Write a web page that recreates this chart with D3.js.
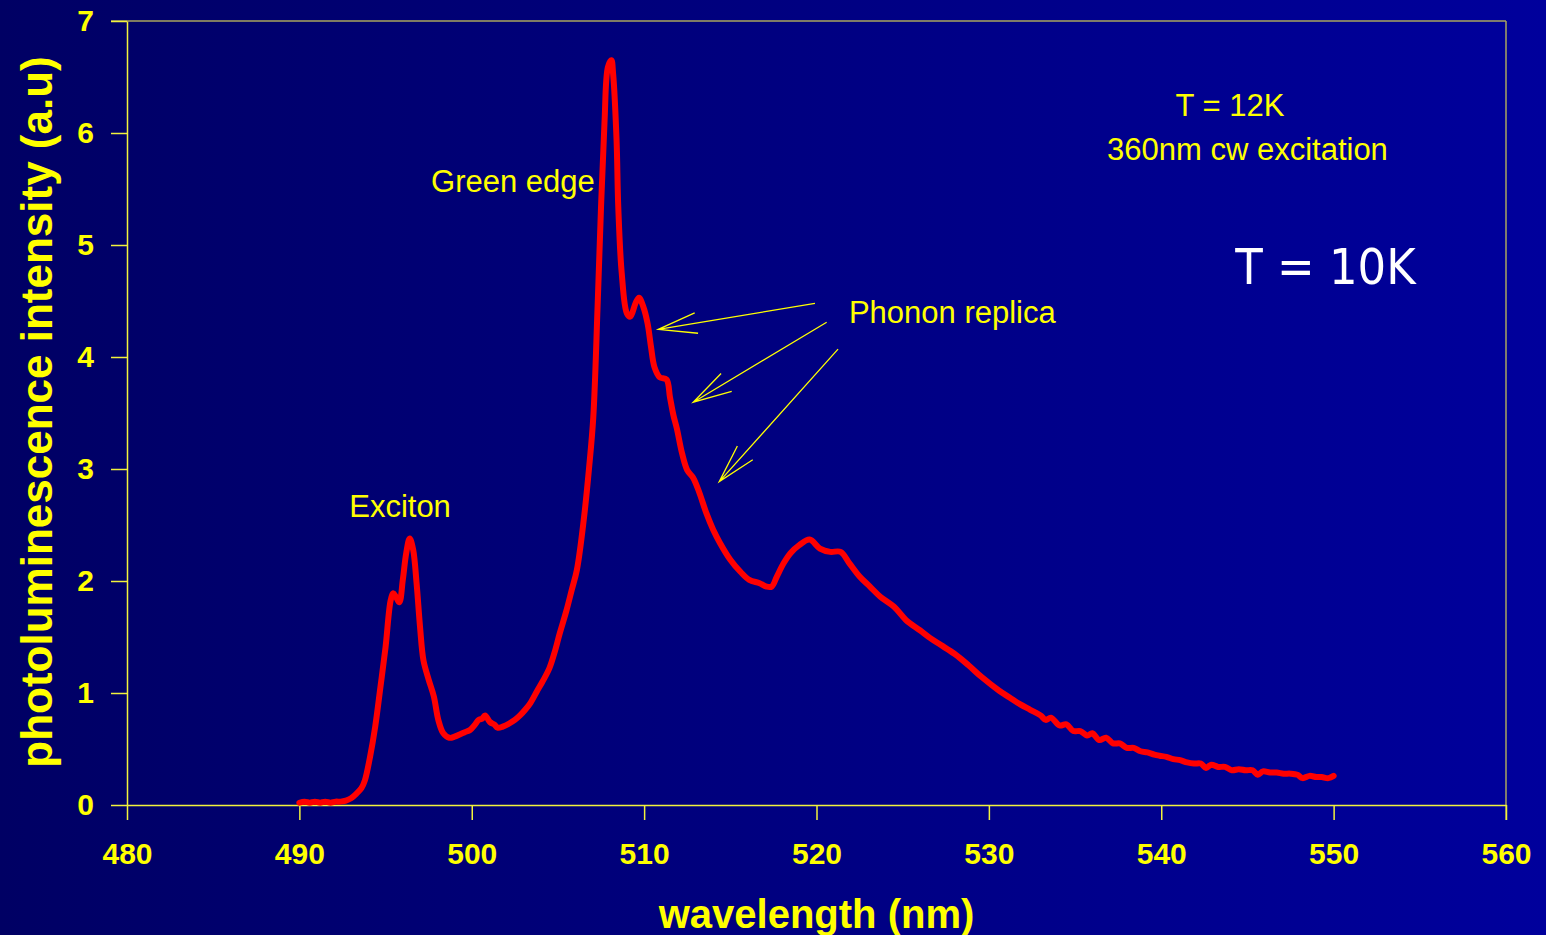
<!DOCTYPE html>
<html>
<head>
<meta charset="utf-8">
<script src="https://cdn.jsdelivr.net/npm/d3@7"></script>
<style>
  html, body { margin: 0; padding: 0; overflow: hidden; }
  body { width: 1546px; height: 935px; }
  svg { display: block; }
</style>
</head>
<body>
<svg id="chart" width="1546" height="935"></svg>
<script>
// Low-temperature photoluminescence spectrum (T = 12K, 360 nm cw excitation)
const wavelength = [
  490.0, 490.3, 490.6, 490.9, 491.2, 491.5, 491.8, 492.1, 492.4, 492.7,
  493.0, 493.3, 493.6, 493.8, 494.1, 494.4, 494.7, 495.0, 495.3, 495.45,
  495.6, 495.8, 496.0, 496.2, 496.4, 496.6, 496.8, 497.0, 497.2, 497.5,
  497.8, 498.06, 498.35, 498.7, 499.0, 499.3, 499.6, 499.9, 500.2, 500.4,
  500.6, 500.77, 501.06, 501.3, 501.5, 501.8, 502.2, 502.5, 502.8, 503.1,
  503.4, 503.8, 504.1, 504.5, 504.8, 505.1, 505.5, 505.8, 506.1, 506.5,
  506.8, 507.05, 507.3, 507.5, 507.7, 507.9, 508.1, 508.2, 508.4, 508.5,
  508.7, 509.0, 509.2, 509.5, 509.7, 509.95, 510.2, 510.4, 510.6, 510.9,
  511.3, 511.5, 511.7, 511.9, 512.2, 512.5, 512.85, 513.2, 513.6, 514.0,
  514.4, 515.0, 515.6, 516.1, 516.7, 517.1, 517.4, 517.7, 518.1, 518.5,
  519.0, 519.6, 520.2, 520.8, 521.4, 521.9, 522.5, 523.1, 523.7, 524.5,
  525.2, 526.0, 526.6, 527.2, 528.0, 528.8, 529.6, 530.6, 531.2, 531.8,
  532.4, 533.0, 533.3, 533.6, 534.1, 534.5, 534.9, 535.3, 535.7, 536.0,
  536.4, 536.8, 537.2, 537.6, 538.0, 538.4, 538.8, 539.2, 539.6, 539.9,
  540.3, 540.7, 541.1, 541.5, 541.9, 542.3, 542.6, 542.9, 543.3, 543.7,
  544.1, 544.5, 544.9, 545.3, 545.6, 545.9, 546.3, 546.7, 547.1, 547.5,
  547.9, 548.2, 548.6, 549.0, 549.3, 549.7, 550.0
];
const intensity = [
  0.02, 0.03, 0.02, 0.03, 0.02, 0.03, 0.02, 0.03, 0.03, 0.04,
  0.06, 0.10, 0.15, 0.22, 0.43, 0.70, 1.05, 1.41, 1.83, 1.89,
  1.86, 1.81, 2.01, 2.25, 2.38, 2.28, 1.98, 1.59, 1.29, 1.12,
  0.97, 0.76, 0.64, 0.60, 0.61, 0.63, 0.65, 0.67, 0.72, 0.76,
  0.77, 0.80, 0.74, 0.72, 0.69, 0.70, 0.73, 0.76, 0.80, 0.85,
  0.91, 1.02, 1.10, 1.22, 1.36, 1.53, 1.74, 1.92, 2.10, 2.55,
  3.00, 3.46, 4.45, 5.34, 6.09, 6.59, 6.65, 6.53, 5.94, 5.34,
  4.75, 4.39, 4.36, 4.48, 4.53, 4.45, 4.30, 4.09, 3.91, 3.82,
  3.80, 3.64, 3.48, 3.36, 3.14, 2.99, 2.92, 2.79, 2.61, 2.46,
  2.34, 2.19, 2.08, 2.01, 1.98, 1.95, 1.95, 2.04, 2.16, 2.25,
  2.32, 2.37, 2.29, 2.26, 2.26, 2.16, 2.04, 1.95, 1.86, 1.77,
  1.65, 1.56, 1.49, 1.43, 1.35, 1.25, 1.14, 1.02, 0.96, 0.90,
  0.85, 0.80, 0.76, 0.78, 0.71, 0.72, 0.66, 0.66, 0.62, 0.64,
  0.58, 0.60, 0.55, 0.55, 0.51, 0.51, 0.48, 0.47, 0.45, 0.44,
  0.43, 0.41, 0.40, 0.38, 0.37, 0.37, 0.33, 0.36, 0.34, 0.34,
  0.31, 0.32, 0.31, 0.31, 0.27, 0.30, 0.29, 0.29, 0.28, 0.28,
  0.27, 0.24, 0.26, 0.25, 0.25, 0.24, 0.26
];

const xTicks = [480, 490, 500, 510, 520, 530, 540, 550, 560];
const yTicks = [0, 1, 2, 3, 4, 5, 6, 7];

// Text annotations, anchored in data units (nm, a.u.)
const labels = [
  { text: "Exciton",             x: 495.84, y: 2.571, anchor: "middle", cls: "note" },
  { text: "Green edge",          x: 502.39, y: 5.473, anchor: "middle", cls: "note" },
  { text: "Phonon replica",      x: 521.88, y: 4.304, anchor: "start",  cls: "note" },
  { text: "T = 12K",             x: 543.99, y: 6.152, anchor: "middle", cls: "note" },
  { text: "360nm cw excitation", x: 545.00, y: 5.759, anchor: "middle", cls: "note" },
  { text: "T = 10K",             x: 549.53, y: 4.652, anchor: "middle", cls: "big" }
];
// Arrows pointing at the phonon replicas: tail -> tip, in data units
const arrows = [
  { x0: 519.91, y0: 4.479, x1: 510.82, y1: 4.247 },
  { x0: 520.59, y0: 4.310, x1: 512.85, y1: 3.596 },
  { x0: 521.25, y0: 4.070, x1: 514.36, y1: 2.887 }
];

const W = 1546, H = 935;
const margin = { left: 127, top: 21, right: 40, bottom: 130 };
const innerW = W - margin.left - margin.right;
const innerH = H - margin.top - margin.bottom;

const svg = d3.select("#chart");
const defs = svg.append("defs");
const grad = defs.append("linearGradient")
  .attr("id", "bg").attr("x1", "0%").attr("x2", "100%").attr("y1", "0%").attr("y2", "0%");
grad.append("stop").attr("offset", "0%").attr("stop-color", "#000064");
grad.append("stop").attr("offset", "100%").attr("stop-color", "#00009c");
svg.append("rect").attr("width", W).attr("height", H).attr("fill", "url(#bg)");

const g = svg.append("g").attr("transform", `translate(${margin.left},${margin.top})`);

const x = d3.scaleLinear().domain([480, 560]).range([0, innerW]);
const y = d3.scaleLinear().domain([0, 7]).range([innerH, 0]);

const axisColor = "#f2f23c";
const frameColor = "#aaa45e";
const tickFont = "bold 30px 'Liberation Sans', Arial, sans-serif";

// Plot frame (top and right)
g.append("line").attr("x1", -16).attr("x2", innerW).attr("y1", 0).attr("y2", 0)
  .attr("stroke", frameColor).attr("stroke-width", 1.5);
g.append("line").attr("x1", innerW).attr("x2", innerW).attr("y1", 0).attr("y2", innerH + 15)
  .attr("stroke", frameColor).attr("stroke-width", 1.5);

// X axis
const xAxis = g.append("g").attr("transform", `translate(0,${innerH})`)
  .call(d3.axisBottom(x).tickValues(xTicks).tickSize(15).tickSizeOuter(0).tickFormat(d3.format("d")));
xAxis.select(".domain").attr("stroke", axisColor).attr("stroke-width", 1.5);
xAxis.selectAll(".tick line").attr("stroke", axisColor).attr("stroke-width", 1.5);
xAxis.selectAll(".tick text").attr("y", 38).attr("fill", "#ffff00")
  .style("font", tickFont);

// Y axis
const yAxis = g.append("g")
  .call(d3.axisLeft(y).tickValues(yTicks).tickSize(16).tickSizeOuter(0).tickPadding(17).tickFormat(d3.format("d")));
yAxis.select(".domain").attr("stroke", axisColor).attr("stroke-width", 1.5);
yAxis.selectAll(".tick line").attr("stroke", axisColor).attr("stroke-width", 1.5);
yAxis.selectAll(".tick text").attr("fill", "#ffff00").style("font", tickFont);

// Axis titles
svg.append("text")
  .attr("x", margin.left + x(520)).attr("y", 928)
  .attr("text-anchor", "middle").attr("fill", "#ffff00")
  .style("font", "bold 40px 'Liberation Sans', Arial, sans-serif")
  .text("wavelength (nm)");
svg.append("text")
  .attr("transform", "translate(37,412) rotate(-90)")
  .attr("text-anchor", "middle").attr("dy", "0.35em").attr("fill", "#ffff00")
  .style("font", "bold 44px 'Liberation Sans', Arial, sans-serif")
  .text("photoluminescence intensity (a.u)");

// Spectrum
const points = wavelength.map((w, i) => [w, intensity[i]]);
const line = d3.line().x(d => x(d[0])).y(d => y(d[1])).curve(d3.curveCatmullRom.alpha(0.5));
g.append("path").datum(points)
  .attr("d", line)
  .attr("fill", "none").attr("stroke", "#ff0000").attr("stroke-width", 6)
  .attr("stroke-linejoin", "round").attr("stroke-linecap", "round");

// Arrows with open heads
const headLen = 40, headAngle = 15 * Math.PI / 180;
arrows.forEach(a => {
  const tx = x(a.x1), ty = y(a.y1), sx = x(a.x0), sy = y(a.y0);
  const ang = Math.atan2(sy - ty, sx - tx);
  const p = d3.path();
  p.moveTo(sx, sy); p.lineTo(tx, ty);
  p.moveTo(tx + headLen * Math.cos(ang - headAngle), ty + headLen * Math.sin(ang - headAngle));
  p.lineTo(tx, ty);
  p.lineTo(tx + headLen * Math.cos(ang + headAngle), ty + headLen * Math.sin(ang + headAngle));
  g.append("path").attr("d", p.toString())
    .attr("fill", "none").attr("stroke", "#ffff00").attr("stroke-width", 1.3);
});

// Annotations
g.selectAll("text.label").data(labels).enter().append("text")
  .attr("class", "label")
  .attr("x", d => x(d.x)).attr("y", d => y(d.y))
  .attr("text-anchor", d => d.anchor)
  .attr("fill", d => d.cls === "big" ? "#ffffff" : "#ffff00")
  .style("font", d => d.cls === "big"
    ? "50px 'DejaVu Sans Condensed', 'DejaVu Sans', sans-serif"
    : "31px 'Liberation Sans', Arial, sans-serif")
  .style("font-stretch", d => d.cls === "big" ? "condensed" : null)
  .text(d => d.text);
</script>
</body>
</html>
